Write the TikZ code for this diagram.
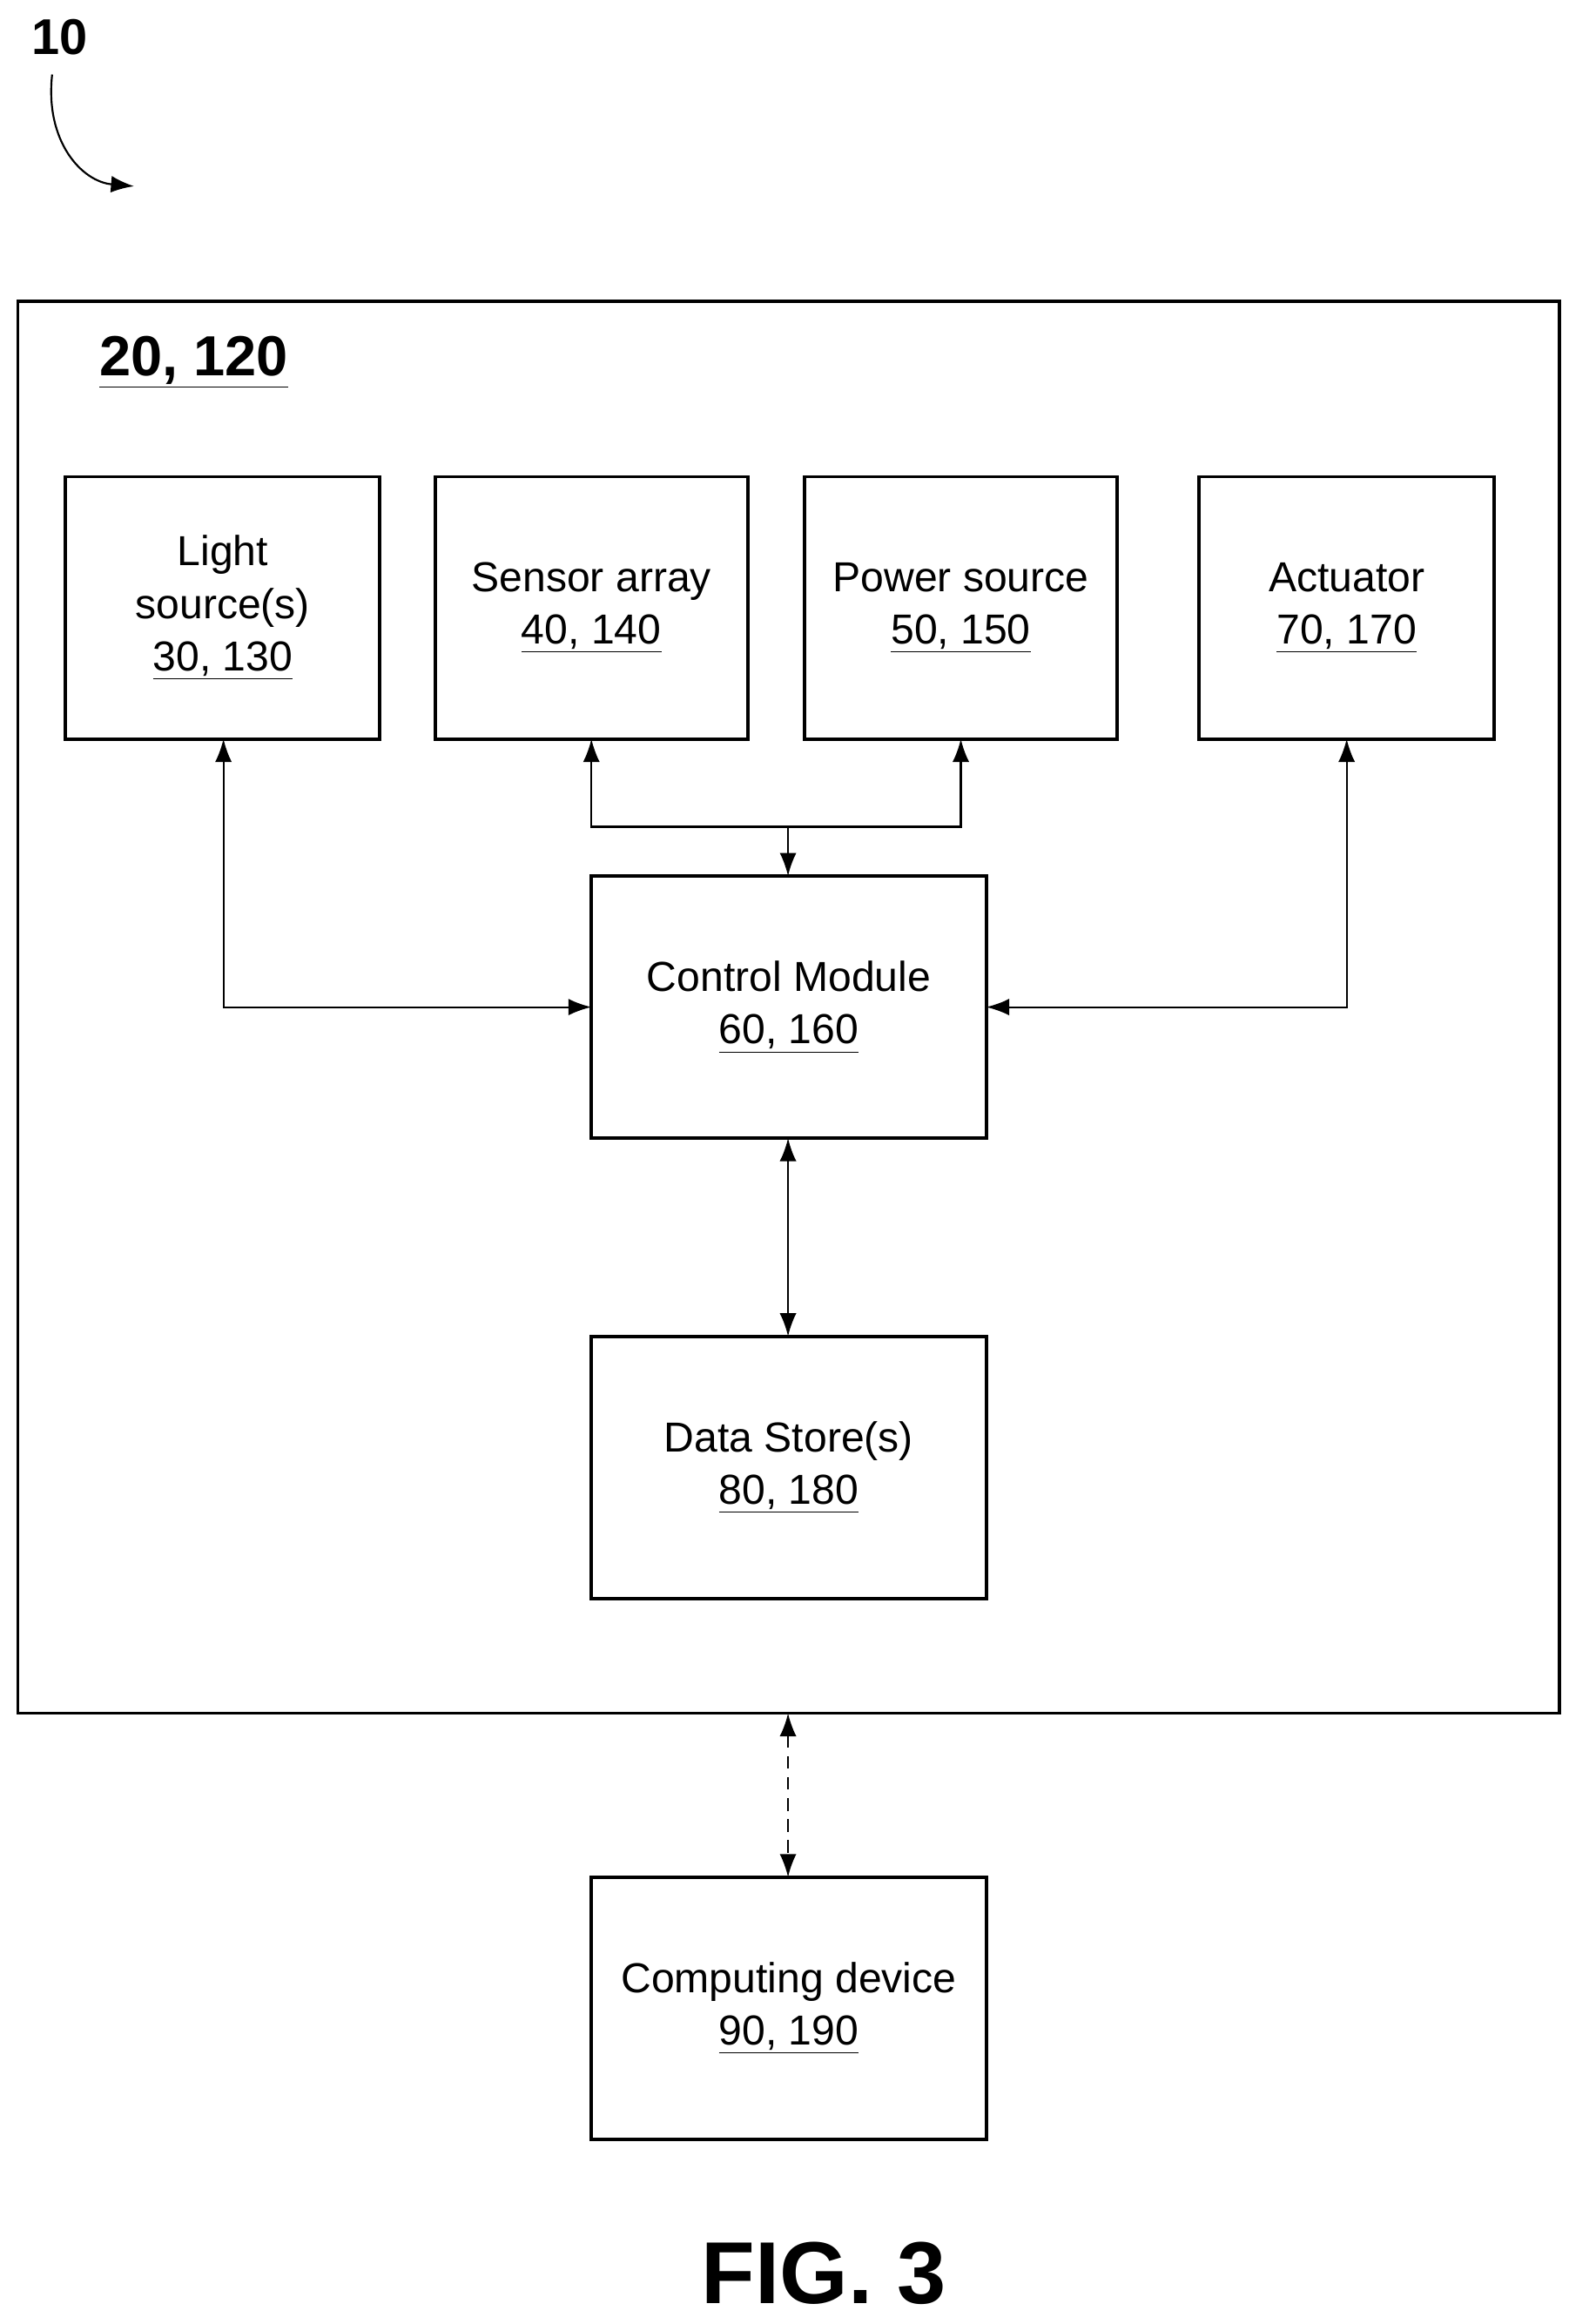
\documentclass[tikz,border=0pt]{standalone}
\usepackage{fontspec}
\setmainfont{Liberation Sans}
\usetikzlibrary{arrows.meta}
\begin{document}
\begin{tikzpicture}[x=0.025cm,y=-0.025cm,
  box/.style={draw,line width=1.6pt},
  lbl/.style={font=\fontsize{20}{25}\selectfont,align=center},
  conn/.style={line width=0.9pt,{Latex[length=11pt,width=8pt]}-{Latex[length=11pt,width=8pt]}},
  one/.style={line width=0.9pt,-{Latex[length=11pt,width=8pt]}}]
\useasboundingbox (0,0) rectangle (1053,1560);
\draw[box] (12,202) rectangle (1047,1150);
\node[font=\fontsize{27}{30}\selectfont\bfseries] (t20) at (130,243) {\underline{20, 120}};
\node[font=\fontsize{24}{28}\selectfont\bfseries] (t10) at (40,25) {10};
\coordinate (a1) at (35,50);
\coordinate (a2) at (90,125);
\draw[one] (a1) .. controls (30,95) and (55,122) .. (a2);
\draw[box] (44,320) rectangle (255,496) node[pos=0.5,lbl] (ls) {Light\\source(s)\\\underline{30, 130}};
\draw[box] (292,320) rectangle (502,496) node[pos=0.5,lbl] (sa) {Sensor array\\\underline{40, 140}};
\draw[box] (540,320) rectangle (750,496) node[pos=0.5,lbl] (ps) {Power source\\\underline{50, 150}};
\draw[box] (805,320) rectangle (1003,496) node[pos=0.5,lbl] (ac) {Actuator\\\underline{70, 170}};
\draw[box] (397,588) rectangle (662,764) node[pos=0.5,lbl] (cm) {Control Module\\\underline{60, 160}};
\draw[box] (397,897) rectangle (662,1073) node[pos=0.5,lbl] (ds) {Data Store(s)\\\underline{80, 180}};
\draw[box] (397,1260) rectangle (662,1436) node[pos=0.5,lbl] (cd) {Computing device\\\underline{90, 190}};
\coordinate (lsb) at (150,496); \coordinate (cml) at (397,676);
\coordinate (acb) at (904,496); \coordinate (cmr) at (662,676);
\coordinate (sab) at (397,496); \coordinate (psb) at (645,496);
\coordinate (j) at (529,555); \coordinate (cmt) at (529,588);
\coordinate (cmb) at (529,764); \coordinate (dst) at (529,897);
\coordinate (ob) at (529,1150); \coordinate (cdt) at (529,1260);
\draw[conn] (lsb) |- (cml);
\draw[conn] (acb) |- (cmr);
\draw[conn] (sab) |- (j) -| (psb);
\draw[one] (j) -- (cmt);
\draw[conn] (cmb) -- (dst);
\draw[conn,dash pattern=on 6pt off 4pt] (ob) -- (cdt);
\node[font=\fontsize{42}{48}\selectfont\bfseries,anchor=base,inner sep=0pt] (fig) at (553,1546) {FIG. 3};
\end{tikzpicture}
\end{document}
